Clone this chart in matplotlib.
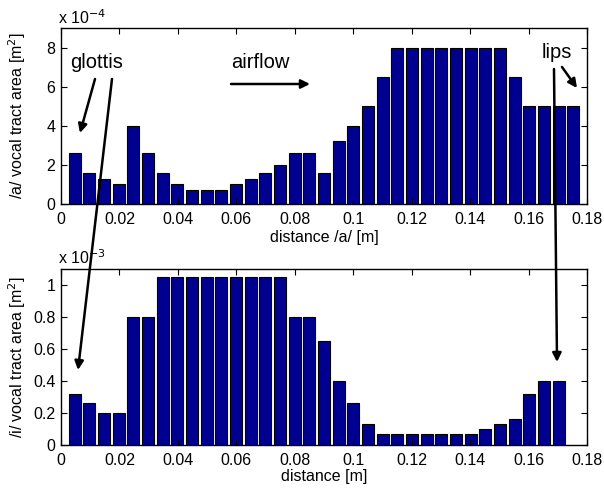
import numpy as np
import matplotlib
matplotlib.use('Agg')
import matplotlib.pyplot as plt
from matplotlib.patches import FancyArrowPatch
from matplotlib.ticker import FuncFormatter

plt.rcParams['font.family'] = ['Liberation Sans', 'DejaVu Sans']

# section centres [m]
dist_a = 0.00466 + 0.00502 * np.arange(35)
dist_i = 0.00466 + 0.00502 * np.arange(34)

# vocal tract area, /a/ in 1e-4 m^2, /i/ in 1e-3 m^2
area_a = [2.6, 1.6, 1.3, 1.0, 4.0, 2.6, 1.6, 1.0, 0.7, 0.7, 0.7, 1.0, 1.3, 1.6,
          2.0, 2.6, 2.6, 1.6, 3.2, 4.0, 5.0, 6.5, 8.0, 8.0, 8.0, 8.0, 8.0, 8.0,
          8.0, 8.0, 6.5, 5.0, 5.0, 5.0, 5.0]
area_i = [0.32, 0.26, 0.20, 0.20, 0.80, 0.80, 1.05, 1.05, 1.05, 1.05, 1.05,
          1.05, 1.05, 1.05, 1.05, 0.80, 0.80, 0.65, 0.40, 0.26, 0.13, 0.065,
          0.065, 0.065, 0.065, 0.065, 0.065, 0.065, 0.10, 0.13, 0.16, 0.32,
          0.40, 0.40]

W, H = 604, 490
fig = plt.figure(figsize=(W / 100, H / 100), dpi=100)


def fpos(x, y):
    # image pixel -> figure fraction
    return x / W, 1 - y / H


bar_color = '#000090'
fs = 11.5

ax1 = fig.add_axes([61 / W, 1 - 204 / H, 526 / W, 176 / H])
ax1.bar(dist_a, area_a, width=0.0041, color=bar_color, edgecolor='k', linewidth=0.8)
ax1.set_xlim(0, 0.18)
ax1.set_ylim(0, 9)
ax1.set_yticks([0, 2, 4, 6, 8])
ax1.set_xlabel('distance /a/ [m]', fontsize=fs, labelpad=2)
ax1.set_ylabel('/a/ vocal tract area [m$^2$]', fontsize=fs)

ax2 = fig.add_axes([61 / W, 1 - 444.7 / H, 526 / W, 175.4 / H])
ax2.bar(dist_i, area_i, width=0.0041, color=bar_color, edgecolor='k', linewidth=0.8)
ax2.set_xlim(0, 0.18)
ax2.set_ylim(0, 1.1)
ax2.set_yticks([0, 0.2, 0.4, 0.6, 0.8, 1.0])
ax2.set_xlabel('distance [m]', fontsize=fs, labelpad=1)
ax2.set_ylabel('/i/ vocal tract area [m$^2$]', fontsize=fs)

fmt = FuncFormatter(lambda v, p: '%g' % round(v, 6))
for ax in (ax1, ax2):
    ax.set_xticks(np.arange(0, 0.181, 0.02))
    ax.xaxis.set_major_formatter(fmt)
    ax.yaxis.set_major_formatter(fmt)
    ax.tick_params(direction='in', top=True, right=True, length=4,
                   labelsize=fs)
    ax.tick_params(axis='x', pad=6)
    ax.tick_params(axis='y', pad=4)
    ax.yaxis.set_label_coords(-0.063, 0.5)
    for s in ax.spines.values():
        s.set_linewidth(1.0)

fig.text(*fpos(58, 18), 'x 10$^{-4}$', fontsize=fs, va='center', ha='left')
fig.text(*fpos(58, 258), 'x 10$^{-3}$', fontsize=fs, va='center', ha='left')

# annotations
fig.text(*fpos(70, 62), 'glottis', fontsize=14.5, va='center', ha='left')
fig.text(*fpos(231, 62), 'airflow', fontsize=14.5, va='center', ha='left')
fig.text(*fpos(542, 52), 'lips', fontsize=14.5, va='center', ha='left')

arrows = [((95, 79), (80, 133)),
          ((112, 79), (78, 370)),
          ((231, 84), (310, 84)),
          ((562, 67), (577, 88)),
          ((554, 69), (557, 362))]
for (x0, y0), (x1, y1) in arrows:
    fig.add_artist(FancyArrowPatch(fpos(x0, y0), fpos(x1, y1),
                                   transform=fig.transFigure,
                                   arrowstyle='-|>', mutation_scale=13,
                                   lw=1.8, color='k', shrinkA=0, shrinkB=0,
                                   zorder=5))

fig.savefig('out.png', dpi=100)
